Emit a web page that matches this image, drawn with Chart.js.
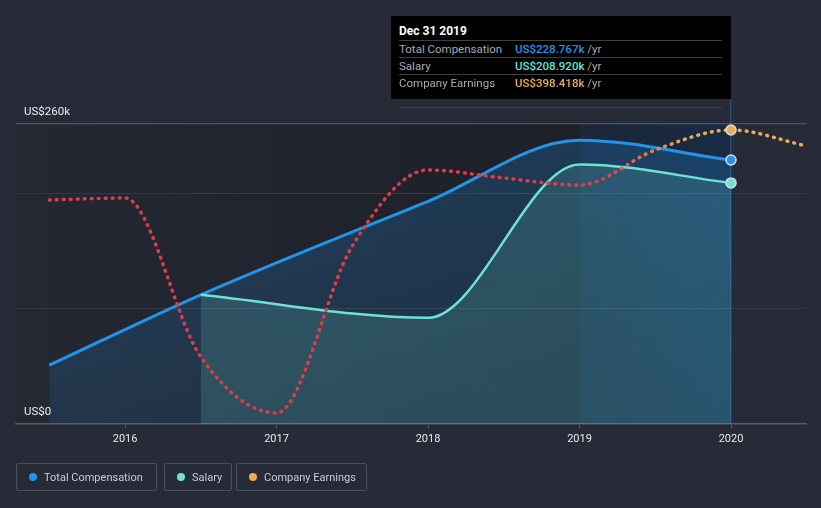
<!DOCTYPE html>
<html><head><meta charset="utf-8">
<script src="https://cdn.jsdelivr.net/npm/chart.js@4.4.0/dist/chart.umd.min.js"></script>
<style>
html,body{margin:0;padding:0;background:#262b37;width:821px;height:508px;overflow:hidden;font-family:Roboto,"Noto Sans",sans-serif}
#wrap{position:absolute;left:0;top:0;width:821px;height:508px}
#tip{position:absolute;left:391px;top:16px;width:340px;height:83px;background:#000;color:#a8abb0;font-size:11.5px}
#tip .t{position:absolute;left:8px;top:8px;color:#fff;font-weight:bold;font-size:12px}
#tip .r{position:absolute;left:8px;width:323px;height:16px;line-height:16px;border-top:1px solid #3c3f44}
#tip .r span.l{position:absolute;left:0}
#tip .r span.v{position:absolute;left:116px}
#tip .bl{position:absolute;left:8px;top:91px;width:323px;border-top:1px solid #3c3f44}
.lg{position:absolute;top:463px;height:28px;border:1px solid #4a505c;border-radius:2px;box-sizing:border-box;display:flex;align-items:center;color:#c9ccd2;font-size:11px}
.lg i{display:inline-block;width:8px;height:8px;border-radius:50%;margin:0 7px 0 12px}
</style></head>
<body>
<div id="wrap"><canvas id="c" width="821" height="508"></canvas></div>
<div id="tip">
  <div class="t">Dec 31 2019</div>
  <div class="r" style="top:24px"><span class="l">Total Compensation</span><span class="v"><b style="font-weight:500;color:#2394e8">US$228.767k</b> /yr</span></div>
  <div class="r" style="top:41px"><span class="l">Salary</span><span class="v"><b style="font-weight:500;color:#6fe3d2">US$208.920k</b> /yr</span></div>
  <div class="r" style="top:58px"><span class="l">Company Earnings</span><span class="v"><b style="font-weight:500;color:#e9ad55">US$398.418k</b> /yr</span></div>
  <div class="bl"></div>
</div>
<div class="lg" style="left:16px;width:141px"><i style="background:#2394e8"></i>Total Compensation</div>
<div class="lg" style="left:164px;width:68px"><i style="background:#6fe3d2"></i>Salary</div>
<div class="lg" style="left:236px;width:131px"><i style="background:#e9ad55"></i>Company Earnings</div>
<script>
// ---- data (values in US$ thousands) ----
const compYears = [2015.5, 2016.5, 2018.0, 2019.0, 2020.0];
const compValues = [51, 112, 193, 246, 228.767];
const salaryYears = [2016.5, 2018.0, 2019.0, 2020.0];
const salaryValues = [112, 92, 225, 208.92];
const earningsYears = [2015.5, 2016.0, 2016.5, 2017.0, 2017.5, 2018.0, 2018.5, 2019.0, 2019.5, 2020.0, 2020.5];
const earningsValues = [303.5, 306.2, 90.8, 14.9, 241.2, 344.2, 333.3, 323.8, 371.3, 398.418, 376.7];
const xTickYears = [2016, 2017, 2018, 2019, 2020];
const yTickValues = [0, 100, 200, 260];
const yTickLabels = {0: 'US$0', 260: 'US$260k'};
const hoverYear = 2020.0;
const bandStartYear = 2019.0;

const BLUE = '#2394e8', TEAL = '#6fe3d2', RED = '#e23d44', ORANGE = '#e9ad55';

const toXY = (xs, ys) => xs.map((x, i) => ({x, y: ys[i]}));
const lastRadius = (years) => (ctx) => years[ctx.dataIndex] === hoverYear ? 5 : 0;

const bgPlugin = {
  id: 'bg',
  beforeDraw(chart) {
    const {ctx, chartArea: a, scales: {x}} = chart;
    const xe = x.getPixelForValue(hoverYear);
    ctx.save();
    const g = ctx.createLinearGradient(a.left, 0, xe, 0);
    g.addColorStop(0, '#242833');
    g.addColorStop(1, '#1b1e26');
    ctx.fillStyle = g;
    ctx.fillRect(a.left, a.top, xe - a.left, a.bottom - a.top);
    ctx.restore();
  },
  beforeDatasetsDraw(chart) {
    const {ctx, chartArea: a, scales: {x}} = chart;
    const xe = x.getPixelForValue(hoverYear);
    const xb = x.getPixelForValue(bandStartYear);
    ctx.save();
    const gb = ctx.createLinearGradient(xb, 0, xe, 0);
    gb.addColorStop(0, 'rgba(20,90,180,0.10)');
    gb.addColorStop(1, 'rgba(20,90,180,0.22)');
    ctx.fillStyle = gb;
    ctx.fillRect(xb, a.top, xe - xb, a.bottom - a.top);
    ctx.fillStyle = 'rgba(50,100,160,0.55)';
    ctx.fillRect(Math.round(xe) - 1, 99, 1.5, a.bottom - 99);
    ctx.restore();
  }
};

const ctx = document.getElementById('c').getContext('2d');
new Chart(ctx, {
  type: 'line',
  data: {
    datasets: [
      {
        label: 'Company Earnings',
        data: toXY(earningsYears, earningsValues),
        yAxisID: 'y2',
        borderColor: (c) => {
          const ch = c.chart; if (!ch.chartArea) return RED;
          const xs = ch.scales.x;
          const g = ch.ctx.createLinearGradient(xs.getPixelForValue(2019.15), 0, xs.getPixelForValue(2019.7), 0);
          g.addColorStop(0, RED); g.addColorStop(1, ORANGE); return g;
        },
        borderWidth: 3.5,
        borderDash: [0.8, 6.2],
        borderCapStyle: 'round',
        fill: false,
        cubicInterpolationMode: 'monotone',
        pointRadius: lastRadius(earningsYears),
        pointBackgroundColor: ORANGE,
        pointBorderColor: '#d9dde4',
        pointBorderWidth: 1.5,
        order: 0
      },
      {
        label: 'Salary',
        data: toXY(salaryYears, salaryValues),
        yAxisID: 'y',
        borderColor: TEAL,
        borderWidth: 2.5,
        fill: 'origin',
        backgroundColor: 'rgba(110,227,210,0.17)',
        cubicInterpolationMode: 'monotone',
        pointRadius: lastRadius(salaryYears),
        pointBackgroundColor: TEAL,
        pointBorderColor: '#d9dde4',
        pointBorderWidth: 1.5,
        order: 1
      },
      {
        label: 'Total Compensation',
        data: toXY(compYears, compValues),
        yAxisID: 'y',
        borderColor: BLUE,
        borderWidth: 3,
        fill: 'origin',
        backgroundColor: (c) => {
          const ch = c.chart; if (!ch.chartArea) return 'rgba(33,150,243,0.18)';
          const a = ch.chartArea;
          const g = ch.ctx.createLinearGradient(0, a.top, 0, a.bottom);
          g.addColorStop(0, 'rgba(33,150,243,0.22)');
          g.addColorStop(1, 'rgba(33,150,243,0.12)');
          return g;
        },
        cubicInterpolationMode: 'monotone',
        pointRadius: lastRadius(compYears),
        pointBackgroundColor: BLUE,
        pointBorderColor: '#d9dde4',
        pointBorderWidth: 1.5,
        order: 2
      }
    ]
  },
  options: {
    responsive: false,
    animation: false,
    layout: {padding: {top: 124, left: 16, right: 15, bottom: 0}},
    plugins: {legend: {display: false}, tooltip: {enabled: false}},
    scales: {
      x: {
        type: 'linear',
        min: 2015.28,
        max: 2020.495,
        afterBuildTicks: (s) => { s.ticks = xTickYears.map(v => ({value: v})); },
        afterFit: (s) => { s.height = 84; },
        ticks: {color: '#e6e8eb', font: {family: 'Roboto', size: 11}, padding: 5, callback: (v) => String(v), maxRotation: 0},
        grid: {drawOnChartArea: false, drawTicks: true, tickLength: 4, color: '#535966'},
        border: {color: '#555b67', width: 1.5}
      },
      y: {
        position: 'left',
        min: 0,
        max: 260,
        afterBuildTicks: (s) => { s.ticks = yTickValues.map(v => ({value: v})); },
        afterFit: (s) => { s.width = 0; },
        ticks: {mirror: true, padding: 8, labelOffset: -12, color: '#eceef1', font: {family: 'Roboto', size: 11.5},
                callback: (v) => yTickLabels[v] || ''},
        grid: {drawTicks: false, color: (c) => c.tick.value === 260 ? '#4d525d' : (c.tick.value === 0 ? 'rgba(0,0,0,0)' : '#333843'), lineWidth: (c) => c.tick.value === 260 ? 1.2 : 1},
        border: {display: false}
      },
      y2: {display: false, min: 0, max: 406.5}
    }
  },
  plugins: [bgPlugin]
});
</script>
</body></html>
